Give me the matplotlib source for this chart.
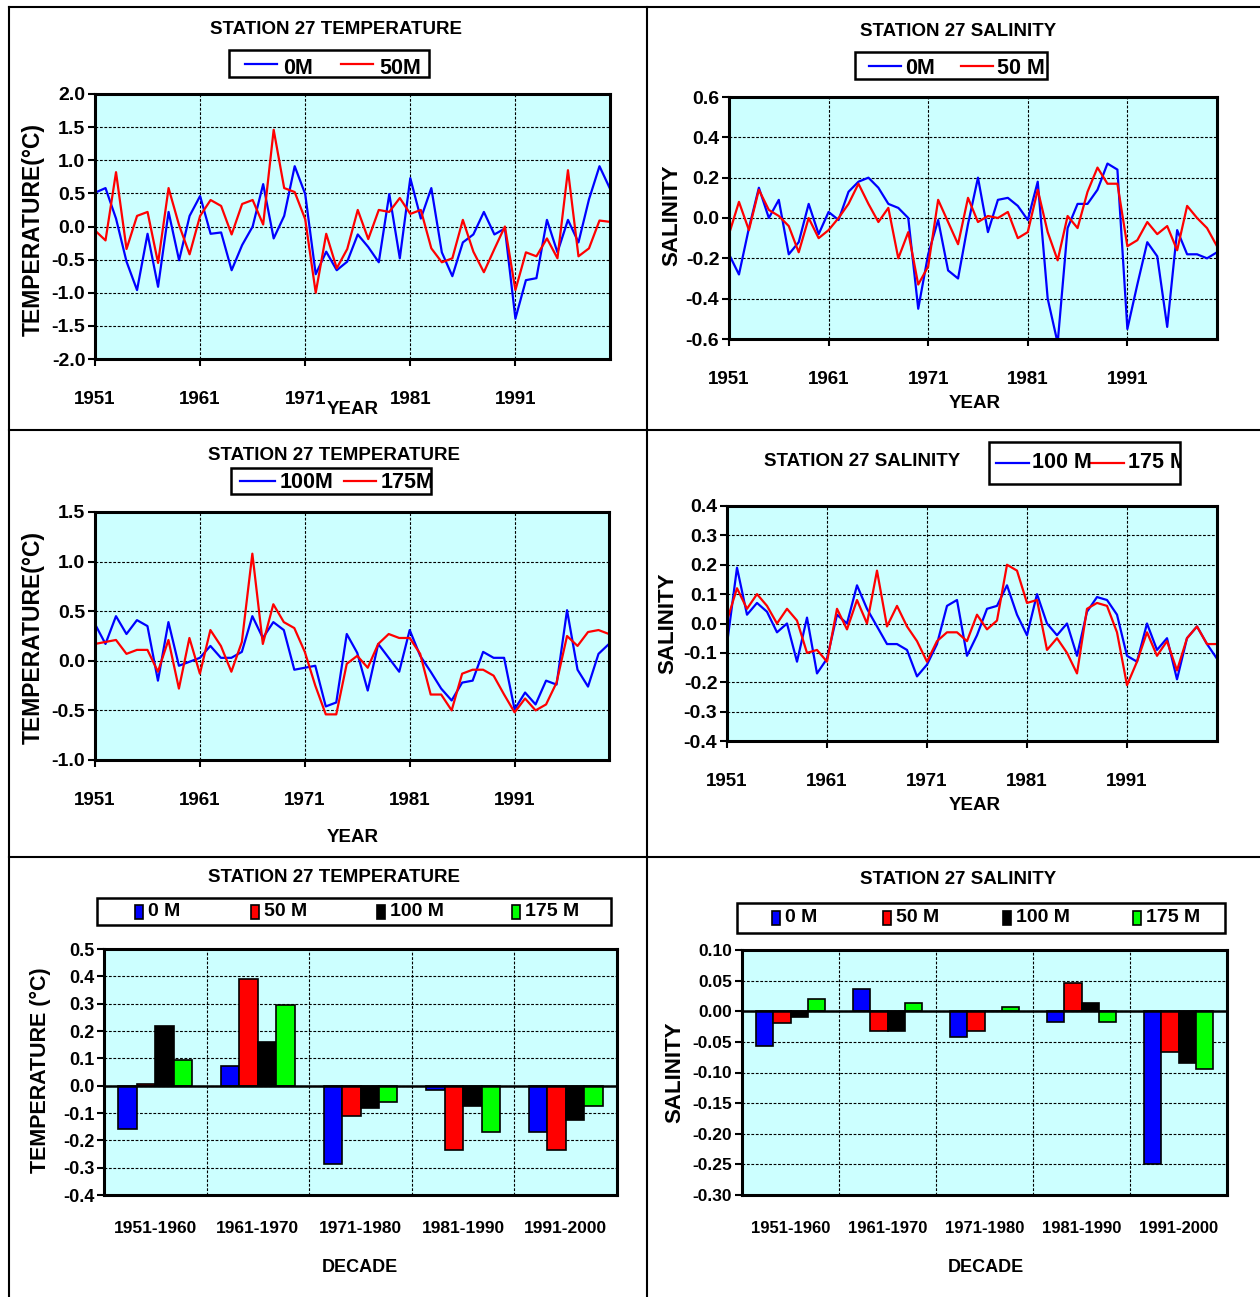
import matplotlib
matplotlib.use("Agg")
import matplotlib.pyplot as plt
import numpy as np
from matplotlib.lines import Line2D
from matplotlib.patches import Rectangle
from matplotlib.ticker import FormatStrFormatter, MultipleLocator

W, H = 1260, 1297
CYAN = "#CCFFFF"
BLUE, RED, BLACK, GREEN = "#0000FF", "#FF0000", "#000000", "#00FF00"
FONT = ["Liberation Sans", "DejaVu Sans"]

plt.rcParams["font.family"] = FONT
plt.rcParams["font.weight"] = "bold"

# ---- annual anomalies, 1951-2000 ----
YEARS = np.arange(1951, 2001)
YEAR_TICKS = [1951, 1961, 1971, 1981, 1991]

TEMP_0M = [0.51, 0.58, 0.12, -0.53, -0.96, -0.11, -0.91, 0.22, -0.51, 0.16,
           0.46, -0.11, -0.09, -0.66, -0.28, 0.00, 0.64, -0.18, 0.16, 0.91,
           0.49, -0.72, -0.38, -0.66, -0.53, -0.12, -0.31, -0.54, 0.49, -0.48,
           0.73, 0.12, 0.58, -0.39, -0.75, -0.24, -0.12, 0.22, -0.12, -0.03,
           -1.39, -0.81, -0.78, 0.10, -0.39, 0.10, -0.24, 0.41, 0.91, 0.57]
TEMP_50M = [-0.06, -0.21, 0.82, -0.34, 0.16, 0.22, -0.55, 0.58, 0.02, -0.42,
            0.16, 0.40, 0.31, -0.12, 0.34, 0.40, 0.03, 1.46, 0.58, 0.52,
            0.11, -1.00, -0.11, -0.63, -0.34, 0.25, -0.19, 0.25, 0.22, 0.43,
            0.19, 0.25, -0.33, -0.54, -0.48, 0.10, -0.38, -0.69, -0.34, 0.00,
            -0.96, -0.39, -0.45, -0.18, -0.48, 0.85, -0.45, -0.33, 0.09, 0.07]
SAL_0M = [-0.18, -0.28, -0.05, 0.15, 0.00, 0.09, -0.18, -0.12, 0.07, -0.08,
          0.03, -0.01, 0.13, 0.18, 0.20, 0.15, 0.07, 0.05, 0.00, -0.45,
          -0.18, -0.01, -0.26, -0.30, -0.03, 0.20, -0.07, 0.09, 0.10, 0.06,
          -0.01, 0.18, -0.40, -0.62, -0.05, 0.07, 0.07, 0.14, 0.27, 0.24,
          -0.55, -0.33, -0.12, -0.19, -0.54, -0.06, -0.18, -0.18, -0.20, -0.17]
SAL_50M = [-0.08, 0.08, -0.06, 0.14, 0.04, 0.01, -0.04, -0.17, 0.00, -0.10,
           -0.06, 0.00, 0.07, 0.17, 0.07, -0.02, 0.05, -0.20, -0.07, -0.33,
           -0.24, 0.09, -0.02, -0.13, 0.10, -0.02, 0.01, 0.00, 0.03, -0.10,
           -0.07, 0.14, -0.07, -0.21, 0.01, -0.05, 0.13, 0.25, 0.17, 0.17,
           -0.14, -0.11, -0.02, -0.08, -0.04, -0.16, 0.06, 0.00, -0.05, -0.14]
TEMP_100M = [0.37, 0.17, 0.45, 0.27, 0.41, 0.35, -0.20, 0.39, -0.05, -0.01,
             0.03, 0.15, 0.03, 0.03, 0.09, 0.45, 0.23, 0.39, 0.31, -0.09,
             -0.07, -0.05, -0.46, -0.42, 0.27, 0.08, -0.30, 0.17, 0.03, -0.11,
             0.31, 0.05, -0.11, -0.28, -0.40, -0.22, -0.20, 0.09, 0.03, 0.03,
             -0.49, -0.32, -0.44, -0.20, -0.24, 0.51, -0.09, -0.26, 0.07, 0.17]
TEMP_175M = [0.17, 0.19, 0.21, 0.07, 0.11, 0.11, -0.11, 0.21, -0.28, 0.23,
             -0.13, 0.31, 0.15, -0.11, 0.19, 1.08, 0.17, 0.57, 0.39, 0.33,
             0.09, -0.25, -0.54, -0.54, -0.03, 0.05, -0.07, 0.17, 0.27, 0.23,
             0.23, 0.07, -0.34, -0.34, -0.50, -0.13, -0.09, -0.09, -0.15, -0.34,
             -0.52, -0.38, -0.50, -0.44, -0.22, 0.25, 0.15, 0.29, 0.31, 0.27]
SAL_100M = [-0.07, 0.19, 0.03, 0.07, 0.04, -0.03, 0.00, -0.13, 0.02, -0.17,
            -0.12, 0.03, 0.00, 0.13, 0.05, -0.01, -0.07, -0.07, -0.09, -0.18,
            -0.14, -0.07, 0.06, 0.08, -0.11, -0.04, 0.05, 0.06, 0.13, 0.03,
            -0.04, 0.10, 0.00, -0.04, 0.00, -0.11, 0.04, 0.09, 0.08, 0.03,
            -0.11, -0.13, 0.00, -0.09, -0.05, -0.19, -0.05, -0.01, -0.07, -0.12]
SAL_175M = [0.01, 0.12, 0.05, 0.10, 0.06, 0.00, 0.05, 0.01, -0.10, -0.09,
            -0.13, 0.05, -0.02, 0.08, 0.00, 0.18, -0.01, 0.06, -0.01, -0.06,
            -0.13, -0.06, -0.03, -0.03, -0.06, 0.03, -0.02, 0.01, 0.20, 0.18,
            0.07, 0.08, -0.09, -0.05, -0.10, -0.17, 0.05, 0.07, 0.06, -0.03,
            -0.21, -0.13, -0.03, -0.11, -0.06, -0.16, -0.05, -0.01, -0.07, -0.07]

# ---- decadal means ----
DECADES = ["1951-1960", "1961-1970", "1971-1980", "1981-1990", "1991-2000"]
DEPTHS = ["0 M", "50 M", "100 M", "175 M"]
DEC_TEMP_0M = [-0.160, 0.072, -0.285, -0.015, -0.170]
DEC_TEMP_50M = [0.005, 0.390, -0.110, -0.235, -0.235]
DEC_TEMP_100M = [0.220, 0.160, -0.083, -0.076, -0.127]
DEC_TEMP_175M = [0.094, 0.294, -0.060, -0.170, -0.073]
DEC_SAL_0M = [-0.057, 0.036, -0.042, -0.017, -0.250]
DEC_SAL_50M = [-0.019, -0.032, -0.032, 0.046, -0.067]
DEC_SAL_100M = [-0.010, -0.032, 0.000, 0.014, -0.085]
DEC_SAL_175M = [0.020, 0.013, 0.007, -0.017, -0.094]
BAR_COLORS = [BLUE, RED, BLACK, GREEN]

GRID = dict(color="black", linestyle=(0, (2.5, 1.5)), linewidth=0.8)


def fx(x):
    return x / W


def fy(y):
    return 1 - y / H


def add_axes(fig, x0, y0, x1, y1, ysize):
    ax = fig.add_axes([fx(x0), fy(y1), (x1 - x0) / W, (y1 - y0) / H])
    ax.set_facecolor(CYAN)
    for s in ax.spines.values():
        s.set_linewidth(2.2)
    ax.tick_params(axis="y", direction="out", length=5, width=1.5,
                   labelsize=ysize, pad=2)
    ax.set_axisbelow(True)
    return ax


def ftext(fig, x, y, s, size=13.5, **kw):
    kw.setdefault("ha", "center")
    kw.setdefault("va", "center")
    return fig.text(fx(x), fy(y), s, fontsize=size, fontweight="bold", **kw)


def line_panel(fig, box, blue, red, lo, hi, step):
    ax = add_axes(fig, *box, ysize=14)
    ax.plot(YEARS, blue, color=BLUE, lw=1.6)
    ax.plot(YEARS, red, color=RED, lw=1.6)
    ax.set_xlim(1951, 2000)
    ax.set_ylim(lo, hi)
    ax.set_xticks(YEAR_TICKS)
    ax.yaxis.set_major_locator(MultipleLocator(step))
    ax.yaxis.set_major_formatter(FormatStrFormatter("%.1f"))
    ax.tick_params(axis="x", direction="out", length=5, width=1.5,
                   labelsize=13.5, pad=18)
    ax.grid(True, **GRID)
    return ax


def bar_panel(fig, box, series, lo, hi, step, fmt, size):
    ax = add_axes(fig, *box, ysize=size)
    x = np.arange(len(DECADES))
    width = 0.18
    for k, (vals, color) in enumerate(zip(series, BAR_COLORS)):
        ax.bar(x + (k - 1.5) * width, vals, width, color=color,
               edgecolor="black", linewidth=1.2, zorder=2)
    ax.axhline(0, color="black", lw=1.8, zorder=3)
    ax.set_xlim(-0.5, len(DECADES) - 0.5)
    ax.set_ylim(lo, hi)
    ax.set_xticks(x)
    ax.set_xticklabels(DECADES)
    ax.set_xticks(x[:-1] + 0.5, minor=True)
    ax.yaxis.set_major_locator(MultipleLocator(step))
    ax.yaxis.set_major_formatter(FormatStrFormatter(fmt))
    ax.tick_params(axis="x", which="both", length=0, labelsize=size - 0.5, pad=19)
    ax.grid(True, axis="y", which="major", **GRID)
    ax.grid(True, axis="x", which="minor", **GRID)
    return ax


def line_legend(fig, box, items, ty):
    x0, y0, x1, y1 = box
    rect = Rectangle((fx(x0), fy(y1)), (x1 - x0) / W, (y1 - y0) / H,
                     transform=fig.transFigure, facecolor="white",
                     edgecolor="black", lw=1.8, zorder=5)
    fig.add_artist(rect)
    for lx0, lx1, tx, label, color in items:
        ly = (y0 + y1) / 2
        fig.add_artist(Line2D([fx(lx0), fx(lx1)], [fy(ly), fy(ly)],
                              transform=fig.transFigure, color=color,
                              lw=1.6, zorder=6))
        t = ftext(fig, tx, ty, label, size=15.5, ha="left", zorder=6)
        t.set_clip_path(rect)


def bar_legend(fig, box, marks, ty):
    x0, y0, x1, y1 = box
    fig.add_artist(Rectangle((fx(x0), fy(y1)), (x1 - x0) / W, (y1 - y0) / H,
                             transform=fig.transFigure, facecolor="white",
                             edgecolor="black", lw=1.8, zorder=5))
    for mx, label, color in zip(marks, DEPTHS, BAR_COLORS):
        fig.add_artist(Rectangle((fx(mx - 4), fy(ty + 7)), 8 / W, 14 / H,
                                 transform=fig.transFigure, facecolor=color,
                                 edgecolor="black", lw=1.2, zorder=6))
        ftext(fig, mx + 9, ty, label, size=14, ha="left", zorder=6)


fig = plt.figure(figsize=(W / 100, H / 100), dpi=100)

# panel frame lines
for xs, ys in [([9, 9], [7, H]), ([647, 647], [7, H]), ([9, W], [7, 7]),
               ([9, W], [430, 430]), ([9, W], [857, 857])]:
    fig.add_artist(Line2D([fx(v) for v in xs], [fy(v) for v in ys],
                          transform=fig.transFigure, color="black", lw=1.5))

# top-left: temperature 0 / 50 m
line_panel(fig, (95, 94, 610, 359), TEMP_0M, TEMP_50M, -2.0, 2.0, 0.5)
ftext(fig, 336, 30, "STATION 27 TEMPERATURE")
line_legend(fig, (229, 50, 429, 77),
            [(245, 277, 283, "0M", BLUE), (341, 373, 379, "50M", RED)], 68)
ftext(fig, 353, 410, "YEAR")
ftext(fig, 33, 229, "TEMPERATURE(°C)", size=16.5, rotation=90)

# top-right: salinity 0 / 50 m
line_panel(fig, (729, 97, 1217, 339), SAL_0M, SAL_50M, -0.6, 0.6, 0.2)
ftext(fig, 958, 32, "STATION 27 SALINITY")
line_legend(fig, (855, 52, 1047, 79),
            [(869, 901, 905, "0M", BLUE), (961, 993, 997, "50 M", RED)], 68)
ftext(fig, 975, 403, "YEAR")
ftext(fig, 672, 215, "SALINITY", size=16, rotation=90)

# middle-left: temperature 100 / 175 m
line_panel(fig, (95, 512, 609, 760), TEMP_100M, TEMP_175M, -1.0, 1.5, 0.5)
ftext(fig, 334, 456, "STATION 27 TEMPERATURE")
line_legend(fig, (231, 468, 431, 494),
            [(240, 275, 280, "100M", BLUE), (344, 376, 381, "175M", RED)], 482)
ftext(fig, 353, 838, "YEAR")
ftext(fig, 33, 637, "TEMPERATURE(°C)", size=16.5, rotation=90)

# middle-right: salinity 100 / 175 m
line_panel(fig, (727, 506, 1217, 741), SAL_100M, SAL_175M, -0.4, 0.4, 0.1)
ftext(fig, 862, 462, "STATION 27 SALINITY")
line_legend(fig, (989, 442, 1180, 484),
            [(996, 1029, 1032, "100 M", BLUE), (1090, 1124, 1128, "175 M", RED)], 463)
ftext(fig, 975, 806, "YEAR")
ftext(fig, 668, 623, "SALINITY", size=16, rotation=90)

# bottom-left: decadal temperature
bar_panel(fig, (104, 949, 617, 1195),
          [DEC_TEMP_0M, DEC_TEMP_50M, DEC_TEMP_100M, DEC_TEMP_175M],
          -0.4, 0.5, 0.1, "%.1f", 13)
ftext(fig, 334, 877, "STATION 27 TEMPERATURE")
bar_legend(fig, (97, 898, 611, 925), [139, 255, 381, 516], 912)
ftext(fig, 360, 1268, "DECADE", size=13)
ftext(fig, 40, 1070, "TEMPERATURE (°C)", size=15.5, rotation=90)

# bottom-right: decadal salinity
bar_panel(fig, (742, 950, 1227, 1195),
          [DEC_SAL_0M, DEC_SAL_50M, DEC_SAL_100M, DEC_SAL_175M],
          -0.30, 0.10, 0.05, "%.2f", 12.5)
ftext(fig, 958, 879, "STATION 27 SALINITY")
bar_legend(fig, (737, 903, 1225, 933), [776, 887, 1007, 1137], 918)
ftext(fig, 986, 1268, "DECADE", size=13)
ftext(fig, 675, 1072, "SALINITY", size=16, rotation=90)

fig.savefig("out.png", dpi=100)
